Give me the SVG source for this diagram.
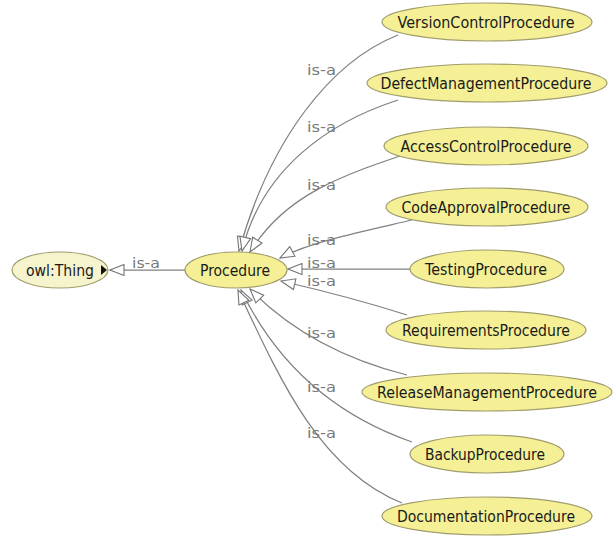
<svg xmlns="http://www.w3.org/2000/svg" width="615" height="537" viewBox="0 0 615 537">
  <style>
    .node ellipse { fill: #f5f096; stroke: #a09d6c; stroke-width: 1.2; }
    .node.root ellipse { fill: #f6f4cc; }
    .node text { font-family: "DejaVu Sans", "Liberation Sans", sans-serif; font-size: 16px; fill: #1a1a1a; text-anchor: middle; }
    .edge { fill: none; stroke: #808080; stroke-width: 1.25; }
    .lbl { font-family: "DejaVu Sans", "Liberation Sans", sans-serif; font-size: 14px; fill: #7a7a7a; }
  </style>
  <defs>
    <marker id="isa" viewBox="0 0 16 13" refX="15" refY="6.5" markerWidth="16" markerHeight="13" markerUnits="userSpaceOnUse" orient="auto">
      <path d="M1,1 L15,6.5 L1,12 Z" fill="#ffffff" stroke="#757575" stroke-width="1.1"/>
    </marker>
  </defs>
  <rect width="615" height="537" fill="#ffffff"/>

  <!-- subclass edges -->
  <g id="edges">
    <path class="edge" d="M185,270 L110,270" marker-end="url(#isa)"/>
    <path class="edge" d="M398,35 C330,62 270,140 239,251" marker-end="url(#isa)"/>
    <path class="edge" d="M398,100 C330,122 262,168 242,251" marker-end="url(#isa)"/>
    <path class="edge" d="M412,152 C340,176 285,195 250,252" marker-end="url(#isa)"/>
    <path class="edge" d="M412,220 C360,232 310,242 280,258" marker-end="url(#isa)"/>
    <path class="edge" d="M410,269 L288,269" marker-end="url(#isa)"/>
    <path class="edge" d="M407,315 C360,300 320,290 281,281" marker-end="url(#isa)"/>
    <path class="edge" d="M407,375 C340,358 290,330 250,289" marker-end="url(#isa)"/>
    <path class="edge" d="M412,442 C320,410 270,350 241,290" marker-end="url(#isa)"/>
    <path class="edge" d="M402,503 C320,470 280,380 238,290" marker-end="url(#isa)"/>

    <text class="lbl" x="132" y="268" textLength="28" lengthAdjust="spacingAndGlyphs">is-a</text>
    <text class="lbl" x="307" y="75" textLength="29" lengthAdjust="spacingAndGlyphs">is-a</text>
    <text class="lbl" x="307" y="132" textLength="29" lengthAdjust="spacingAndGlyphs">is-a</text>
    <text class="lbl" x="307" y="190" textLength="29" lengthAdjust="spacingAndGlyphs">is-a</text>
    <text class="lbl" x="307" y="245" textLength="29" lengthAdjust="spacingAndGlyphs">is-a</text>
    <text class="lbl" x="307" y="268" textLength="29" lengthAdjust="spacingAndGlyphs">is-a</text>
    <text class="lbl" x="307" y="286" textLength="29" lengthAdjust="spacingAndGlyphs">is-a</text>
    <text class="lbl" x="307" y="338" textLength="29" lengthAdjust="spacingAndGlyphs">is-a</text>
    <text class="lbl" x="307" y="392" textLength="29" lengthAdjust="spacingAndGlyphs">is-a</text>
    <text class="lbl" x="307" y="438" textLength="29" lengthAdjust="spacingAndGlyphs">is-a</text>
  </g>

  <g id="owl-thing" class="node root">
    <ellipse cx="60" cy="270" rx="48" ry="18"/>
    <text x="60" y="276" textLength="68" lengthAdjust="spacingAndGlyphs">owl:Thing</text>
    <path d="M101,265 L107,270 L101,275 Z" fill="#111111"/>
  </g>
  <g id="procedure" class="node">
    <ellipse cx="236" cy="270" rx="51" ry="18"/>
    <text x="235" y="276" textLength="70" lengthAdjust="spacingAndGlyphs">Procedure</text>
  </g>
  <g id="version-control" class="node">
    <ellipse cx="487" cy="22" rx="105" ry="19"/>
    <text x="486" y="28" textLength="177" lengthAdjust="spacingAndGlyphs">VersionControlProcedure</text>
  </g>
  <g id="defect-management" class="node">
    <ellipse cx="487" cy="83" rx="120" ry="19"/>
    <text x="486" y="89" textLength="211" lengthAdjust="spacingAndGlyphs">DefectManagementProcedure</text>
  </g>
  <g id="access-control" class="node">
    <ellipse cx="486" cy="146" rx="102" ry="19"/>
    <text x="486" y="152" textLength="171" lengthAdjust="spacingAndGlyphs">AccessControlProcedure</text>
  </g>
  <g id="code-approval" class="node">
    <ellipse cx="487" cy="207" rx="101" ry="19"/>
    <text x="486" y="213" textLength="169" lengthAdjust="spacingAndGlyphs">CodeApprovalProcedure</text>
  </g>
  <g id="testing" class="node">
    <ellipse cx="487" cy="269" rx="77" ry="19"/>
    <text x="486" y="275" textLength="122" lengthAdjust="spacingAndGlyphs">TestingProcedure</text>
  </g>
  <g id="requirements" class="node">
    <ellipse cx="486" cy="330" rx="100" ry="19"/>
    <text x="486" y="336" textLength="168" lengthAdjust="spacingAndGlyphs">RequirementsProcedure</text>
  </g>
  <g id="release-management" class="node">
    <ellipse cx="487" cy="392" rx="125" ry="19"/>
    <text x="487" y="398" textLength="220" lengthAdjust="spacingAndGlyphs">ReleaseManagementProcedure</text>
  </g>
  <g id="backup" class="node">
    <ellipse cx="487" cy="454" rx="77" ry="19"/>
    <text x="485" y="460" textLength="120" lengthAdjust="spacingAndGlyphs">BackupProcedure</text>
  </g>
  <g id="documentation" class="node">
    <ellipse cx="487" cy="516" rx="105" ry="19"/>
    <text x="486" y="522" textLength="178" lengthAdjust="spacingAndGlyphs">DocumentationProcedure</text>
  </g>
</svg>
